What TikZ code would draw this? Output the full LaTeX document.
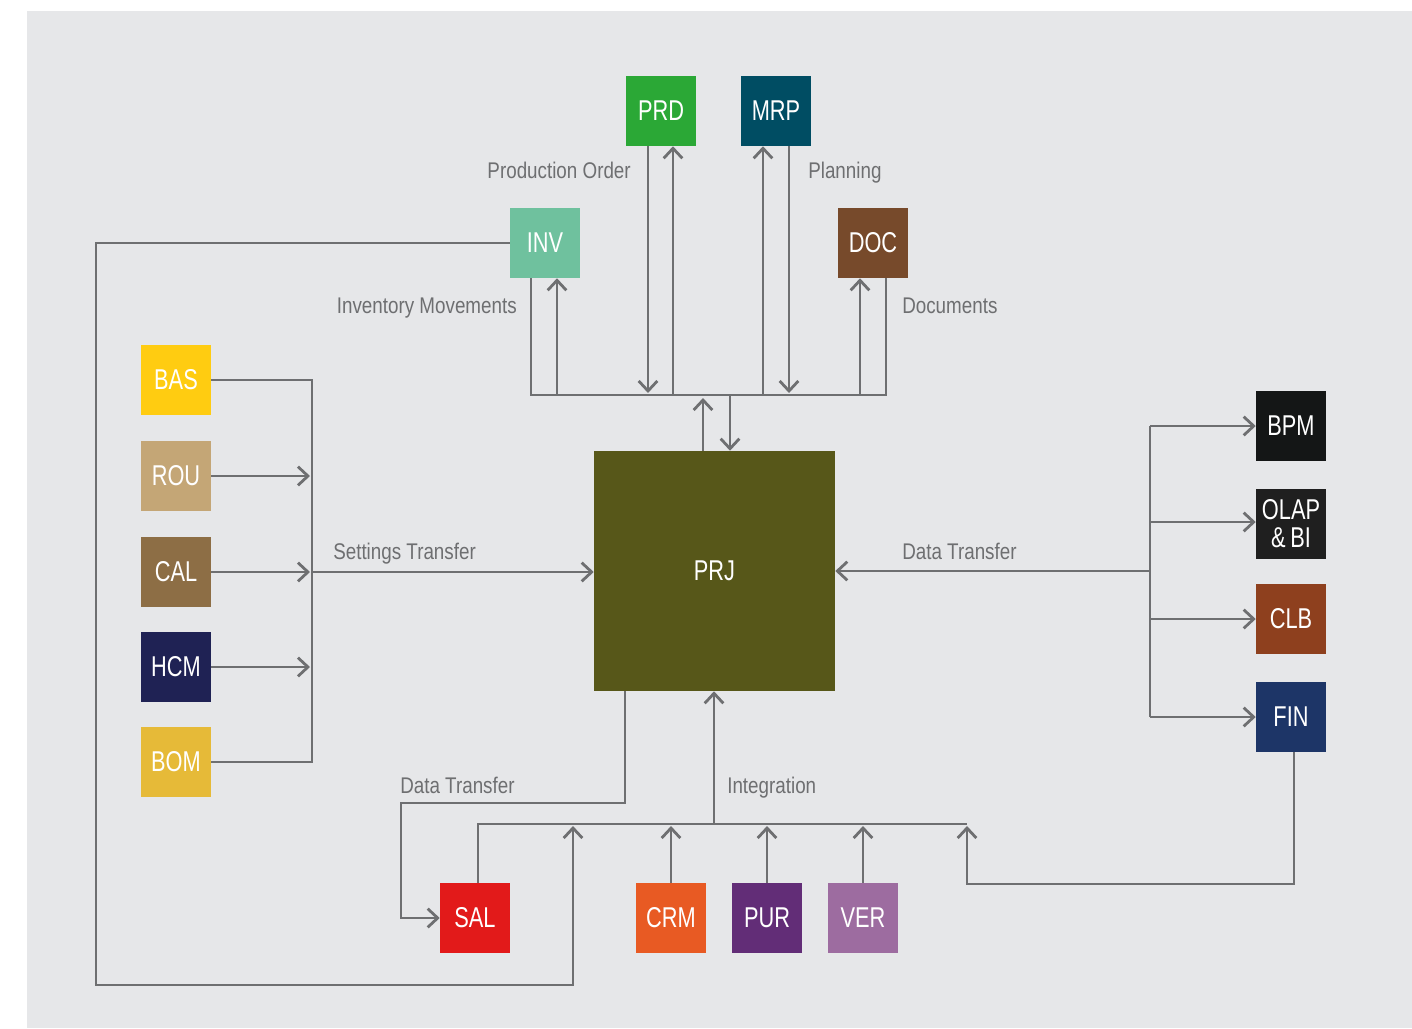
\documentclass[tikz,border=0pt]{standalone}
\usepackage{fontspec}
\setmainfont{Liberation Sans}
\newfontfamily\boxfont[FakeStretch=0.76]{Liberation Sans}
\newfontfamily\lblfont[FakeStretch=0.83]{Liberation Sans}
\usetikzlibrary{arrows.meta}
\definecolor{bg}{RGB}{230,231,233}
\definecolor{ln}{RGB}{110,111,113}
\definecolor{cPRD}{RGB}{43,168,54}
\definecolor{cMRP}{RGB}{0,77,99}
\definecolor{cINV}{RGB}{111,193,158}
\definecolor{cDOC}{RGB}{119,74,43}
\definecolor{cBAS}{RGB}{255,204,17}
\definecolor{cROU}{RGB}{196,166,118}
\definecolor{cCAL}{RGB}{141,110,69}
\definecolor{cHCM}{RGB}{31,34,84}
\definecolor{cBOM}{RGB}{230,186,56}
\definecolor{cPRJ}{RGB}{87,87,25}
\definecolor{cBPM}{RGB}{20,22,22}
\definecolor{cOLAP}{RGB}{31,31,31}
\definecolor{cCLB}{RGB}{142,64,30}
\definecolor{cFIN}{RGB}{29,53,103}
\definecolor{cSAL}{RGB}{226,26,26}
\definecolor{cCRM}{RGB}{232,90,35}
\definecolor{cPUR}{RGB}{98,45,119}
\definecolor{cVER}{RGB}{157,108,160}
\begin{document}
\begin{tikzpicture}[x=0.75pt,y=-0.75pt,
  mod/.style={fill=#1, minimum width=52.5pt, minimum height=52.5pt, inner sep=0pt,
    text=white, align=center, font=\boxfont\fontsize{21.5}{21}\selectfont},
  lbl/.style={text=ln, inner sep=0pt, font=\lblfont\fontsize{17}{20}\selectfont},
  ln/.style={draw=ln, line width=2.1pt},
  arr/.style={ln, -{Straight Barb[length=7.5pt,width=14pt]}}]
\useasboundingbox (0,0) rectangle (1412,1028);
\fill[bg] (27,11) rectangle (1412,1028);
% nodes
\node[mod=cPRD] (PRD) at (661,111) {PRD};
\node[mod=cMRP] (MRP) at (776,111) {MRP};
\node[mod=cINV] (INV) at (545,243) {INV};
\node[mod=cDOC] (DOC) at (873,243) {DOC};
\node[mod=cBAS] (BAS) at (176,380) {BAS};
\node[mod=cROU] (ROU) at (176,476) {ROU};
\node[mod=cCAL] (CAL) at (176,572) {CAL};
\node[mod=cHCM] (HCM) at (176,667) {HCM};
\node[mod=cBOM] (BOM) at (176,762) {BOM};
\node[mod=cPRJ, minimum width=180.75pt, minimum height=180pt] (PRJ) at (714.5,571) {PRJ};
\node[mod=cBPM] (BPM) at (1291,426) {BPM};
\node[mod=cOLAP] (OLAP) at (1291,524) {OLAP\\\&\,BI};
\node[mod=cCLB] (CLB) at (1291,619) {CLB};
\node[mod=cFIN] (FIN) at (1291,717) {FIN};
\node[mod=cSAL] (SAL) at (475,918) {SAL};
\node[mod=cCRM] (CRM) at (671,918) {CRM};
\node[mod=cPUR] (PUR) at (767,918) {PUR};
\node[mod=cVER] (VER) at (863,918) {VER};
% labels
\node[lbl, anchor=base east] (lPO) at (631,178) {Production Order};
\node[lbl, anchor=base west] (lPL) at (808,178) {Planning};
\node[lbl, anchor=base east] (lIM) at (517,313) {Inventory Movements};
\node[lbl, anchor=base west] (lDO) at (902,313) {Documents};
\node[lbl, anchor=base west] (lST) at (333,559) {Settings Transfer};
\node[lbl, anchor=base west] (lDT1) at (902,559) {Data Transfer};
\node[lbl, anchor=base west] (lDT2) at (400,793) {Data Transfer};
\node[lbl, anchor=base west] (lIN) at (727,793) {Integration};
% top bus
\coordinate (tb0) at (531,395);
\coordinate (tb1) at (557,395);
\coordinate (tb2) at (648,393);
\coordinate (tb3) at (673,395);
\coordinate (tb4) at (703,398);
\coordinate (tb5) at (730,395);
\coordinate (tb6) at (763,395);
\coordinate (tb7) at (789,393);
\coordinate (tb8) at (860,395);
\coordinate (tb9) at (886,395);
\draw[ln] (INV.south -| tb0) -- (tb0) -- (tb9) -- (DOC.south -| tb9);
\draw[arr] (tb1) -- (INV.south -| tb1);
\draw[arr] (PRD.south -| tb2) -- (tb2);
\draw[arr] (tb3) -- (PRD.south -| tb3);
\draw[arr] (tb6) -- (MRP.south -| tb6);
\draw[arr] (MRP.south -| tb7) -- (tb7);
\draw[arr] (tb8) -- (DOC.south -| tb8);
\draw[arr] (PRJ.north -| tb4) -- (tb4);
\draw[arr] (tb5) -- (PRJ.north -| tb5);
% left
\coordinate (lb) at (312,572);
\coordinate (lbt) at (310,572);
\draw[ln] (BAS.east) -| (lb) |- (BOM.east);
\draw[arr] (ROU.east) -- (ROU.east -| lbt);
\draw[arr] (CAL.east) -- (lbt);
\draw[arr] (HCM.east) -- (HCM.east -| lbt);
\draw[arr] (lb) -- (PRJ.west |- lb);
% right
\coordinate (rb) at (1150,571);
\draw[arr] (rb) -- (PRJ.east |- rb);
\draw[ln] (BPM.west -| rb) -- (FIN.west -| rb);
\draw[arr] (BPM.west -| rb) -- (BPM.west);
\draw[arr] ([yshift=1.5pt]OLAP.west -| rb) -- ([yshift=1.5pt]OLAP.west);
\draw[arr] (CLB.west -| rb) -- (CLB.west);
\draw[arr] (FIN.west -| rb) -- (FIN.west);
% bottom
\coordinate (d1) at (625,803);
\coordinate (d2) at (401,803);
\draw[arr] (PRJ.south -| d1) -- (d1) -- (d2) |- (SAL.west);
\coordinate (bb) at (714,824);
\coordinate (bbA) at (714,826);
\coordinate (bbL) at (478,824);
\coordinate (bbR) at (967,824);
\coordinate (bbR2) at (967,826);
\draw[arr] (bb) -- (PRJ.south -| bb);
\draw[ln] (SAL.north -| bbL) -- (bbL) -- (bbR);
\draw[arr] (CRM.north) -- (CRM.north |- bbA);
\draw[arr] (PUR.north) -- (PUR.north |- bbA);
\draw[arr] (VER.north) -- (VER.north |- bbA);
\coordinate (f1) at (1294,884);
\draw[arr] (FIN.south -| f1) -- (f1) -| (bbR2);
\coordinate (i1) at (96,243);
\coordinate (i2) at (96,985);
\coordinate (i3) at (573,985);
\coordinate (i4) at (573,826);
\draw[arr] (INV.west) -- (i1) -- (i2) -- (i3) -- (i4);
\end{tikzpicture}
\end{document}
